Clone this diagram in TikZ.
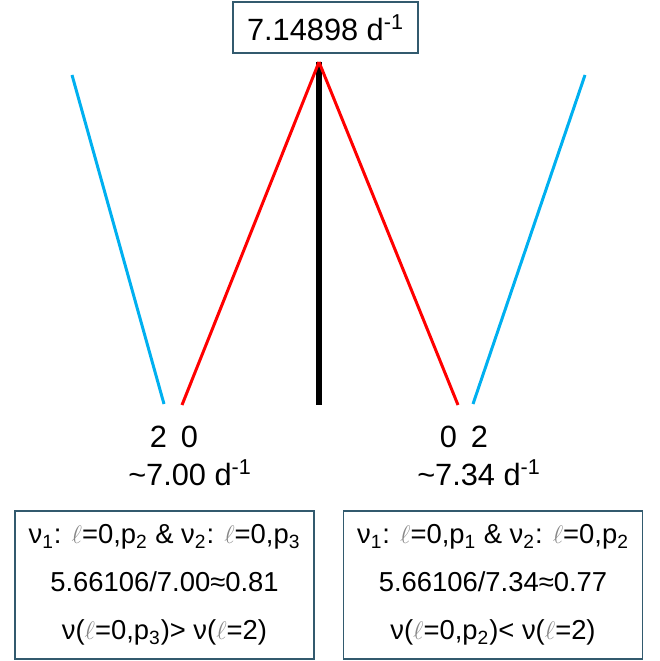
\documentclass[tikz,border=0pt]{standalone}
\usepackage{fontspec}
\setmainfont{Liberation Sans}
\usetikzlibrary{positioning}
\definecolor{cBlue}{RGB}{0,176,240}
\definecolor{cRed} {RGB}{255,0,0}
\definecolor{cBox} {RGB}{50,90,110}
\definecolor{cEll} {RGB}{135,135,135}
\newcommand{\lell}{{\color{cEll}$\ell$}}
\newcommand{\inv}{\textsuperscript{-1}}

\begin{document}
\begin{tikzpicture}[x=0.02cm, y=-0.02cm, font=\fontsize{17.5}{21}\selectfont]

%% ── shared styles ─────────────────────────────────────────────────────────
\tikzset{
  freqbox/.style={
    rectangle, draw=cBox, line width=0.9pt,
    minimum width=3.70cm, minimum height=1.02cm, inner sep=2pt
  },
  infobox/.style={
    rectangle, draw=cBox, line width=0.9pt, align=center,
    minimum width=5.98cm, minimum height=2.96cm, inner sep=2pt,
    font=\fontsize{15.6}{27.3}\selectfont
  },
  lbl/.style={inner sep=1pt},
  stem/.style={line width=3.4pt, black},
  lzero/.style={line width=1.7pt, cRed},
  ltwo/.style={line width=1.7pt, cBlue},
}

\useasboundingbox (0,0) rectangle (659,661);

%% ── central peak ──────────────────────────────────────────────────────────
\node[freqbox] (peak) at (325.5,27.5) {7.14898 d\inv};

\coordinate (apex)  at (319,62);
\coordinate (base)  at (319,405);

\draw[stem] (apex) -- (base);

%% ══════════════════════════════════════════════════════════════════════════
%% LEFT  –  ~7.00
%% ══════════════════════════════════════════════════════════════════════════
\coordinate (LtwoTop) at (72,75);
\coordinate (LtwoEnd) at (164,404);
\coordinate (LzeroEnd) at (182,405);

\draw[ltwo]  (LtwoTop) -- (LtwoEnd);
\draw[lzero] (apex) -- (LzeroEnd);

\node[lbl] (Lpair) at (174,437) {2\hspace{0.45em}0};
\node[lbl] (Lfreq) at (190,473) {\textasciitilde 7.00 d\inv};

\node[infobox] (Linfo) at (164.5,585)
  {ν\textsubscript{1}: \lell=0,p\textsubscript{2} \& ν\textsubscript{2}: \lell=0,p\textsubscript{3}\\
   5.66106/7.00≈0.81\\
   ν(\lell=0,p\textsubscript{3})> ν(\lell=2)};

%% ══════════════════════════════════════════════════════════════════════════
%% RIGHT  –  ~7.34
%% ══════════════════════════════════════════════════════════════════════════
\coordinate (RtwoTop) at (585,75);
\coordinate (RtwoEnd) at (473,404);
\coordinate (RzeroEnd) at (458,405);

\draw[ltwo]  (RtwoTop) -- (RtwoEnd);
\draw[lzero] (apex) -- (RzeroEnd);

\node[lbl] (Rpair) at (464,437) {0\hspace{0.45em}2};
\node[lbl] (Rfreq) at (479,473) {\textasciitilde 7.34 d\inv};

\node[infobox] (Rinfo) at (493,585)
  {ν\textsubscript{1}: \lell=0,p\textsubscript{1} \& ν\textsubscript{2}: \lell=0,p\textsubscript{2}\\
   5.66106/7.34≈0.77\\
   ν(\lell=0,p\textsubscript{2})< ν(\lell=2)};

\end{tikzpicture}
\end{document}
